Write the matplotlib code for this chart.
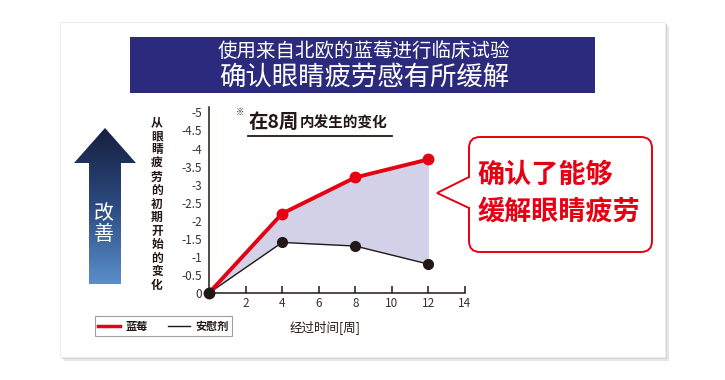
import numpy as np
import matplotlib
matplotlib.use('Agg')
from matplotlib import pyplot as plt
from matplotlib.patches import Rectangle, Polygon, FancyBboxPatch
from matplotlib.lines import Line2D
from matplotlib.colors import LinearSegmentedColormap

plt.rcParams['font.family'] = ['Noto Sans CJK SC', 'DejaVu Sans']

# data (negative = improvement)
weeks = [0, 4, 8, 12]
bilberry = [0, -2.2, -3.2, -3.7]
placebo = [0, -1.4, -1.3, -0.8]
series_names = ['蓝莓', '安慰剂']
x_ticks = [2, 4, 6, 8, 10, 12, 14]
y_ticks = [0, -0.5, -1, -1.5, -2, -2.5, -3, -3.5, -4, -4.5, -5]
y_tick_labels = ['0', '-0.5', '-1', '-1.5', '-2', '-2.5', '-3', '-3.5', '-4', '-4.5', '-5']

title1 = '使用来自北欧的蓝莓进行临床试验'
title2 = '确认眼睛疲劳感有所缓解'
ylabel = '从眼睛疲劳的初期开始的变化'
xlabel = '经过时间[周]'
callout1 = '确认了能够'
callout2 = '缓解眼睛疲劳'

RED = '#e60012'
NAVY = '#2c2a7d'
INK = '#231815'

W, H = 725, 380
fig = plt.figure(figsize=(W / 100, H / 100), dpi=100)
fig.patch.set_facecolor('white')

# background layer in pixel coords
bg = fig.add_axes([0, 0, 1, 1], zorder=0)
bg.axis('off')

# card with soft shadow
bg.add_patch(Rectangle((64, 26), 605, 335, fc='#e6e6e6', ec='none', zorder=1))
bg.add_patch(Rectangle((62, 24), 605, 335, fc='#d2d2d2', ec='none', zorder=1))
bg.add_patch(Rectangle((60, 22), 605, 335, fc='white', ec='#eeeeee', lw=0.8, zorder=2))

# title banner
bg.add_patch(Rectangle((130, 37), 465, 56, fc=NAVY, ec='none', zorder=3))
bg.text(364, 51, title1, color='white', fontsize=14, ha='center', va='center', zorder=4)
bg.text(364, 77, title2, color='white', fontsize=19, ha='center', va='center', zorder=4)

# gradient arrow "改善"
arrow_pts = [(105, 128), (136, 163), (121, 163), (121, 284),
             (89, 284), (89, 163), (74, 163)]
arrow = Polygon(arrow_pts, closed=True, fc='none', ec='none', zorder=3)
bg.add_patch(arrow)
cmap = LinearSegmentedColormap.from_list('arr', ['#16203f', '#2c4a80', '#5a8fca'])
grad = np.linspace(0, 1, 256).reshape(-1, 1)
im = bg.imshow(grad, extent=[74, 136, 284, 128], origin='upper', aspect='auto',
               cmap=cmap, zorder=3)
im.set_clip_path(arrow)
bg.text(104, 214, '改', color='white', fontsize=14.5, ha='center', va='center', zorder=4)
bg.text(104, 234, '善', color='white', fontsize=14.5, ha='center', va='center', zorder=4)

# vertical y label
for i, ch in enumerate(ylabel):
    bg.text(157, 123 + i * 13.5, ch, color=INK, fontsize=8.5, fontweight='bold',
            ha='center', va='center', zorder=4)

# subtitle
bg.text(240, 112, '※', color=INK, fontsize=6, ha='center', va='center', zorder=4)
bg.text(249, 128, '在8周', color=INK, fontsize=14, fontweight='bold',
        ha='left', va='baseline', zorder=4)
bg.text(300, 128, '内发生的变化', color=INK, fontsize=10.5, fontweight='bold',
        ha='left', va='baseline', zorder=4)
bg.plot([248, 392], [136, 136], color=INK, lw=1.3, zorder=4)

# callout bubble
bg.add_patch(FancyBboxPatch((469, 137), 183, 115,
                            boxstyle='round,pad=0,rounding_size=11',
                            fc='white', ec=RED, lw=1.4, zorder=3))
bg.add_patch(Polygon([(471, 177), (437, 193), (471, 208)], closed=True,
                     fc='white', ec='none', zorder=4))
bg.plot([469, 437, 469], [177, 193, 208], color=RED, lw=1.4, zorder=5,
        solid_joinstyle='miter')
bg.text(477, 174, callout1, color=RED, fontsize=19.5, fontweight='bold',
        ha='left', va='center', zorder=5)
bg.text(477, 212, callout2, color=RED, fontsize=19.5, fontweight='bold',
        ha='left', va='center', zorder=5)

# x axis title
bg.text(325, 327, xlabel, color=INK, fontsize=9, ha='center', va='center', zorder=4)

bg.set_xlim(0, W)
bg.set_ylim(H, 0)

# chart axes
x0, x1 = 209, 465
y_top, y_bot = 107, 293
ax = fig.add_axes([x0 / W, 1 - y_bot / H, (x1 - x0) / W, (y_bot - y_top) / H], zorder=2)
ax.patch.set_alpha(0)

ax.fill_between(weeks, bilberry, placebo, color='#d3d1e8', lw=0, zorder=1)
ax.plot(weeks, placebo, color=INK, lw=1.0, marker='o', ms=7, zorder=2)
ax.plot(weeks, bilberry, color=RED, lw=2.8, marker='o', ms=7.5, zorder=3)
ax.plot(weeks[:1], placebo[:1], 'o', color=INK, ms=7.5, zorder=4, clip_on=False)

ax.set_xlim(0, 14)
ax.set_ylim(0, -5.15)
ax.set_xticks(x_ticks)
ax.set_yticks(y_ticks)
ax.set_yticklabels(y_tick_labels)
ax.tick_params(axis='x', direction='in', length=5, width=1.1, color=INK,
               labelsize=8.5, labelcolor='#333333', pad=3)
ax.tick_params(axis='y', length=0, labelsize=8.5, labelcolor='#333333', pad=5)
for s in ['top', 'right']:
    ax.spines[s].set_visible(False)
for s in ['left', 'bottom']:
    ax.spines[s].set_color(INK)
    ax.spines[s].set_linewidth(1.1)

# legend
handles = [Line2D([], [], color=RED, lw=2.5), Line2D([], [], color=INK, lw=1.0)]
leg = ax.legend(handles, series_names, loc='center left',
                bbox_to_anchor=(89 / W, 1 - 326 / H), bbox_transform=fig.transFigure,
                ncol=2, fontsize=8, handlelength=2.0, handletextpad=0.5,
                columnspacing=1.8, borderpad=0.3, fancybox=False, frameon=True)
leg.get_frame().set_edgecolor('#888888')
leg.get_frame().set_linewidth(0.8)
for t in leg.get_texts():
    t.set_fontweight('bold')
    t.set_color(INK)

plt.savefig('out.png', dpi=100)
